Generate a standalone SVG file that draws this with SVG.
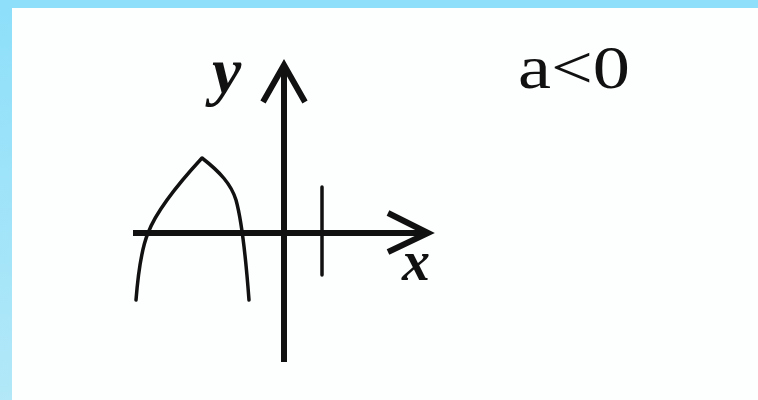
<svg xmlns="http://www.w3.org/2000/svg" width="758" height="400" viewBox="0 0 758 400">
<defs>
<linearGradient id="lb" x1="0" y1="0" x2="0" y2="1">
<stop offset="0" stop-color="#8ddffa"/>
<stop offset="1" stop-color="#b2e8f8"/>
</linearGradient>
<style>
.ax{fill:none;stroke:#111;stroke-width:6;stroke-linecap:butt;stroke-linejoin:miter}
.thin{fill:none;stroke:#111;stroke-width:3.5;stroke-linecap:round;stroke-linejoin:round}
.lbl{font-family:"Liberation Serif","Times New Roman",serif;fill:#111}
</style>
</defs>
<rect x="0" y="0" width="758" height="400" fill="#fdfefe"/>
<rect x="0" y="0" width="12" height="400" fill="url(#lb)"/>
<rect x="0" y="0" width="758" height="8" fill="#8ddffa"/>
<g id="connectors">
<line class="ax" x1="284" y1="66" x2="284" y2="362"/>
<polyline class="ax" points="263,102 284,65 305,102"/>
<line class="ax" x1="133" y1="233" x2="426" y2="233"/>
<polyline class="ax" points="388,213 428,233 388,252"/>
<line class="thin" x1="322" y1="187" x2="322" y2="275"/>
</g>
<g id="parabola">
<path class="thin" d="M136,300 C138,275 141,250 148,233 C156,212 178,184 202,158 C220,172 231,184 236,200 C241,218 246,260 249,300"/>
</g>
<g id="label-y"><text class="lbl" x="212" y="93" font-size="66" font-style="italic" font-weight="bold">y</text></g>
<g id="label-x"><text class="lbl" x="402" y="280" font-size="56" font-style="italic" font-weight="bold">x</text></g>
<g id="label-a"><text class="lbl" x="518" y="88" font-size="62" textLength="112" lengthAdjust="spacingAndGlyphs">a&lt;0</text></g>
</svg>
